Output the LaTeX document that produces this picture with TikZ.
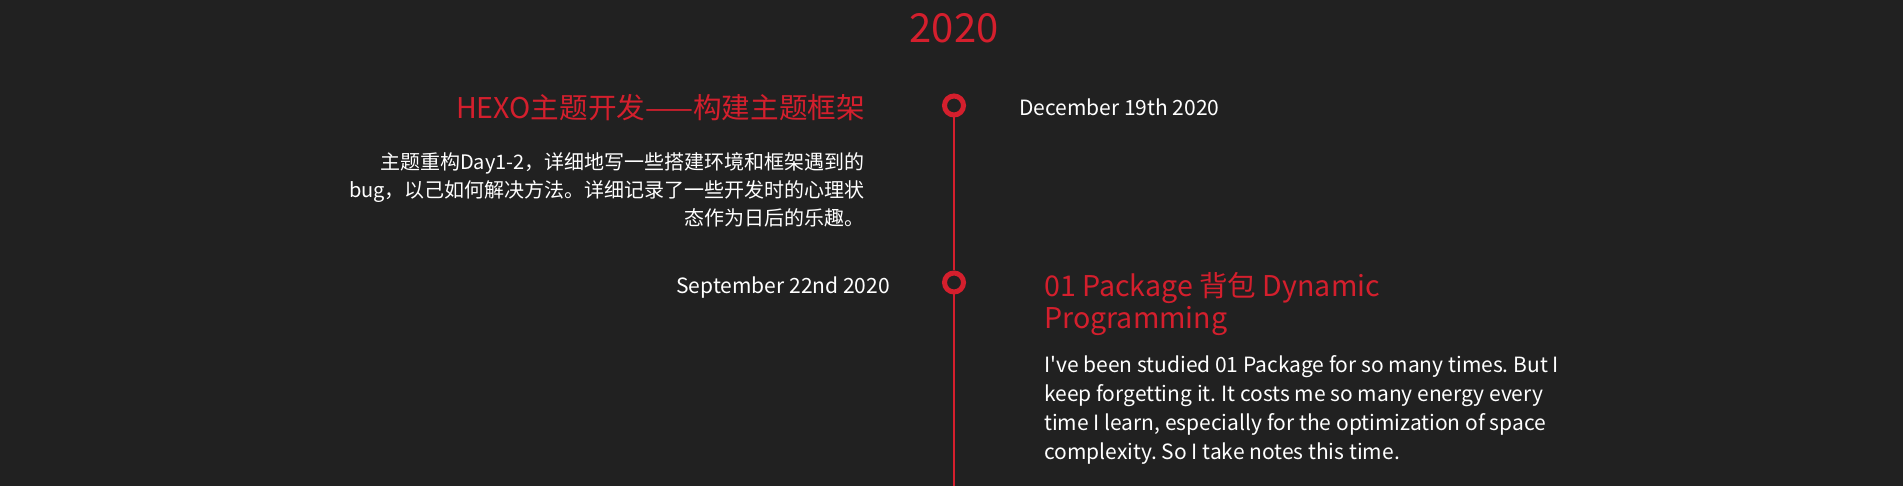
\documentclass[tikz,border=0pt]{standalone}
\usepackage{fontspec}
\setmainfont{Noto Sans CJK SC}[Ligatures=TeXOff]
\frenchspacing
\definecolor{bg}{HTML}{212121}
\definecolor{accent}{HTML}{D41F2D}
\definecolor{fg}{HTML}{FFFFFF}
\tikzset{
  x=1pt, y=-1pt,
  dot/.style={circle, draw=accent, line width=5pt, minimum size=19pt, inner sep=0pt},
  rail/.style={draw=accent, line width=2pt},
  yeartext/.style={text=accent, font=\fontsize{40}{44}\selectfont\frenchspacing, inner sep=0pt},
  titletext/.style={text=accent, font=\fontsize{28.6}{31.5}\selectfont\frenchspacing, inner sep=0pt},
  datetext/.style={text=fg, font=\fontsize{21}{24}\selectfont\frenchspacing, inner sep=0pt},
  bodycjk/.style={text=fg, font=\fontsize{20}{28}\selectfont\frenchspacing, inner sep=0pt},
  bodylatin/.style={text=fg, font=\fontsize{21}{29}\selectfont\frenchspacing, inner sep=0pt},
}
\begin{document}
\begin{tikzpicture}
\fill[bg] (0,0) rectangle (1903,486);
\useasboundingbox (0,0) rectangle (1903,486);
\coordinate (bottom) at (954,486);
\node[yeartext, anchor=base] (year) at (954,43) {2020};
\node[dot] (c1) at (954,105.5) {};
\node[dot] (c2) at (954,282.5) {};
\draw[rail] (c1.south) -- (c2.north);
\draw[rail] (c2.south) -- (bottom);
\node[titletext, anchor=base east] (t1) at (865,119) {HEXO主题开发——构建主题框架};
\node[bodycjk, anchor=base east, align=right] (b1) at (865,226) {主题重构Day1-2，详细地写一些搭建环境和框架遇到的\\bug，以己如何解决方法。详细记录了一些开发时的心理状\\态作为日后的乐趣。};
\node[datetext, anchor=base west] (d1) at (1019,116) {December 19th 2020};
\node[datetext, anchor=base east] (d2) at (890,294) {September 22nd 2020};
\node[titletext, anchor=base west, align=left] (t2) at (1044,328) {01 Package 背包 Dynamic\\Programming};
\node[bodylatin, anchor=base west, align=left] (b2) at (1044,459) {I've been studied 01 Package for so many times. But I\\keep forgetting it. It costs me so many energy every\\time I learn, especially for the optimization of space\\complexity. So I take notes this time.};
\end{tikzpicture}
\end{document}
